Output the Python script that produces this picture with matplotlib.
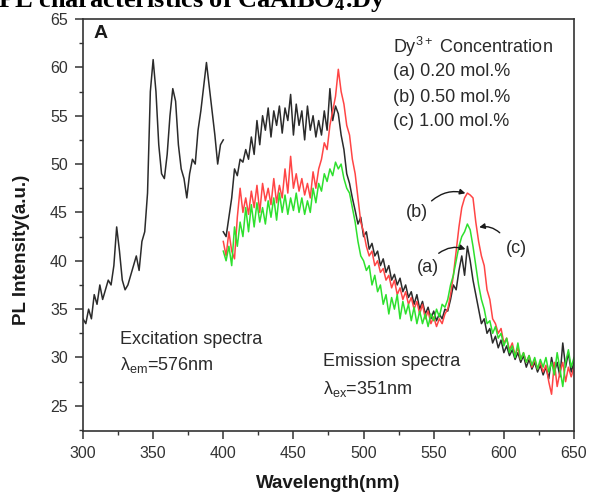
"""PL spectra of CaAlBO4:Dy"""
import matplotlib
matplotlib.use('Agg')
import matplotlib.pyplot as plt
import numpy as np
from matplotlib.ticker import MultipleLocator

plt.rcParams['mathtext.default'] = 'regular'
plt.rcParams['font.family'] = ['Liberation Sans', 'DejaVu Sans']

# excitation spectrum (lambda_em = 576 nm), every 2 nm from 300 to 400
exc_wl = np.arange(300, 401, 2)
exc_int = [34.0, 33.5, 35.0, 34.0, 36.5, 35.5, 37.5, 36.0, 37.0, 38.0,
           37.5, 39.5, 43.5, 41.0, 38.0, 37.0, 37.5, 38.5, 39.5, 40.5,
           39.0, 42.0, 43.0, 47.0, 57.5, 60.8, 57.5, 52.0, 49.0, 48.5,
           51.0, 55.0, 57.8, 56.5, 52.0, 49.5, 48.5, 46.5, 49.0, 50.5,
           50.0, 53.5, 55.5, 58.0, 60.5, 58.0, 55.5, 53.0, 50.0, 52.0,
           52.5]

# emission spectra (lambda_ex = 351 nm), every 2 nm from 400 to 650
em_wl = np.arange(400, 651, 2)
em_a = [43.0, 42.5, 44.5, 46.5, 49.5, 48.8, 50.5, 50.2, 51.5, 50.5,
        52.8, 51.0, 54.5, 52.0, 55.0, 53.5, 55.8, 52.8, 55.5, 54.0,
        56.0, 53.2, 55.8, 54.5, 57.2, 53.0, 56.2, 54.0, 55.5, 52.5,
        56.0, 53.5, 55.0, 52.8, 54.5, 53.0, 55.5, 53.5, 57.8, 54.5,
        56.0, 55.2, 53.0, 51.5, 49.0, 48.0, 46.5, 45.2, 43.8, 44.5,
        42.5, 43.0, 41.2, 41.8, 40.5, 41.0, 39.5, 40.2, 38.8, 39.5,
        38.0, 38.6, 37.5, 38.2, 36.8, 37.5, 36.2, 36.8, 35.5, 36.5,
        35.0, 35.8, 34.5, 35.2, 34.0, 34.8, 33.8, 34.5, 34.0, 35.0,
        34.8, 36.0, 37.5, 37.0, 39.0, 40.5, 38.5, 41.5, 40.0, 38.0,
        36.5, 35.0, 33.5, 34.0, 32.5, 33.0, 31.5, 32.2, 31.0, 31.8,
        30.5, 31.2, 30.2, 30.8, 29.8, 30.5, 29.5, 30.2, 29.0, 29.8,
        28.8, 29.5, 28.5, 29.2, 28.2, 29.0, 27.8, 30.0, 28.5, 29.5,
        28.0, 31.5, 29.0, 30.5, 28.5, 29.5]
em_b = [42.0, 40.5, 43.0, 41.0, 40.2, 44.5, 47.5, 45.0, 46.5, 44.8,
        47.2, 45.5, 47.8, 45.0, 48.0, 46.2, 47.5, 45.8, 48.5, 46.0,
        47.8, 46.5, 49.5, 47.0, 50.8, 47.5, 49.0, 47.2, 48.5, 46.8,
        48.0, 46.5, 49.2, 47.5, 49.5, 50.5, 52.2, 51.5, 54.0, 55.5,
        57.0, 59.8, 57.5, 56.2, 54.0, 53.0, 50.5, 49.0, 46.5, 44.0,
        43.0, 41.5, 40.5, 41.0, 39.5, 40.0, 38.8, 39.2, 38.0, 38.5,
        37.2, 38.0, 36.5, 37.2, 36.0, 36.8, 35.5, 36.2, 35.0, 35.8,
        34.5, 35.5, 34.0, 34.8, 33.5, 34.2, 33.2, 34.0, 33.5, 34.5,
        35.0, 36.5, 38.5, 41.0, 43.5, 45.5, 46.5, 47.0, 46.8, 46.5,
        44.0, 42.0, 40.5, 39.5, 37.0, 36.0, 34.0, 33.5, 32.5, 33.0,
        31.5, 32.0, 30.8, 31.5, 30.2, 31.0, 29.8, 30.5, 29.5, 30.2,
        29.0, 29.8, 28.8, 29.5, 28.5, 29.2, 27.5, 26.2, 29.5, 27.0,
        28.5, 29.5, 27.5, 29.0, 28.0, 29.0]
em_c = [41.0, 40.0, 41.5, 39.5, 43.5, 41.5, 44.0, 42.5, 45.5, 43.0,
        45.8, 43.5, 46.0, 44.0, 45.5, 43.8, 46.2, 44.5, 46.5, 44.2,
        47.0, 45.0, 46.8, 44.8, 46.5, 45.2, 47.0, 45.0, 46.5, 44.8,
        46.2, 45.0, 47.5, 46.0, 48.0, 47.2, 49.0, 48.2, 49.5, 48.8,
        50.2, 49.5, 50.0, 48.5, 47.5, 47.0, 45.5, 44.0, 42.0, 40.5,
        40.0, 39.0, 39.5, 37.5, 38.5, 36.8, 37.5, 35.5, 36.5, 34.5,
        36.2, 35.0, 36.5, 34.0, 35.8, 34.5, 35.5, 33.8, 35.2, 33.5,
        34.8, 33.5, 34.5, 33.2, 34.5, 33.8, 35.0, 34.2, 35.5, 35.2,
        36.0, 37.5, 38.5, 40.0, 41.5, 42.5, 43.0, 43.8, 43.2, 41.5,
        39.5, 37.5, 36.0, 35.0, 33.5, 33.8, 32.5, 33.2, 32.0, 32.5,
        31.2, 32.0, 30.5, 31.2, 30.0, 31.5, 29.8, 30.5, 29.5, 30.2,
        29.2, 30.0, 28.8, 29.8, 29.0, 30.0, 28.5, 29.5, 28.2, 30.5,
        28.8, 27.0, 29.5, 30.8, 29.0, 30.0]

legend_lines = ['Dy$^{3+}$ Concentration', '(a) 0.20 mol.%',
                '(b) 0.50 mol.%', '(c) 1.00 mol.%']

W, H = 589, 493


def fx(px):
    return px / W


def fy(py):
    return 1 - py / H


fig = plt.figure(figsize=(W / 100, H / 100), dpi=100)
ax = fig.add_axes([fx(83), fy(431), (574 - 83) / W, (431 - 19) / H])

ax.plot(exc_wl, exc_int, color='#2b2b2b', lw=1.1)
ax.plot(em_wl, em_a, color='#2b2b2b', lw=1.1)
ax.plot(em_wl, em_b, color='#ff4545', lw=1.1)
ax.plot(em_wl, em_c, color='#2ee02e', lw=1.1)

ax.set_xlim(300, 650)
ax.set_ylim(22.4, 65)
ax.xaxis.set_major_locator(MultipleLocator(50))
ax.xaxis.set_minor_locator(MultipleLocator(25))
ax.yaxis.set_major_locator(MultipleLocator(5))
ax.yaxis.set_minor_locator(MultipleLocator(2.5))
ax.tick_params(which='major', direction='out', length=6, width=1.1,
               labelsize=11.5, colors='#333333', pad=5)
ax.tick_params(which='minor', direction='out', length=3, width=1.0,
               colors='#333333')
for sp in ax.spines.values():
    sp.set_linewidth(1.2)
    sp.set_color('#333333')

# axis labels
fig.text(fx(328), fy(483), 'Wavelength(nm)', ha='center', va='center',
         fontsize=13.5, fontweight='bold', color='#1a1a1a')
fig.text(fx(22), fy(250), 'PL Intensity(a.u.)', ha='center', va='center',
         rotation=90, fontsize=13.5, fontweight='bold', color='#1a1a1a')

# title, cut off by the top edge
fig.text(fx(-2), fy(7), 'PL characteristics of CaAlBO$_4$:Dy', ha='left',
         va='baseline', fontsize=19, fontweight='bold',
         family='Liberation Serif', color='black')

fig.text(fx(101), fy(34), 'A', ha='center', va='center', fontsize=14,
         fontweight='bold', color='#1a1a1a')

txt = dict(fontsize=13, color='#2a2a2a', va='center', ha='left')
for i, s in enumerate(legend_lines):
    fig.text(fx(393), fy(47 + 25 * i), s, **txt)

fig.text(fx(120), fy(339), 'Excitation spectra', **txt)
fig.text(fx(120), fy(365), 'λ$_{em}$=576nm', **txt)
fig.text(fx(323), fy(362), 'Emission spectra', **txt)
fig.text(fx(323), fy(389), 'λ$_{ex}$=351nm', **txt)

# peak labels with curved arrows
lab = dict(ha='center', va='center', fontsize=13, color='#2a2a2a')
ax.text(538, 45.0, '(b)', **lab)
ax.text(609, 41.3, '(c)', **lab)
ax.text(546, 39.3, '(a)', **lab)
arw = dict(arrowstyle='-|>', color='#1a1a1a', lw=1.0, mutation_scale=8)
ax.annotate('', xy=(574.5, 46.9), xytext=(547, 46.0),
            arrowprops=dict(connectionstyle='arc3,rad=-0.3', **arw))
ax.annotate('', xy=(580.5, 43.4), xytext=(598.5, 42.7),
            arrowprops=dict(connectionstyle='arc3,rad=0.3', **arw))
ax.annotate('', xy=(574.5, 41.1), xytext=(552, 40.6),
            arrowprops=dict(connectionstyle='arc3,rad=-0.3', **arw))

plt.savefig('out.png', dpi=100)
plt.close()
